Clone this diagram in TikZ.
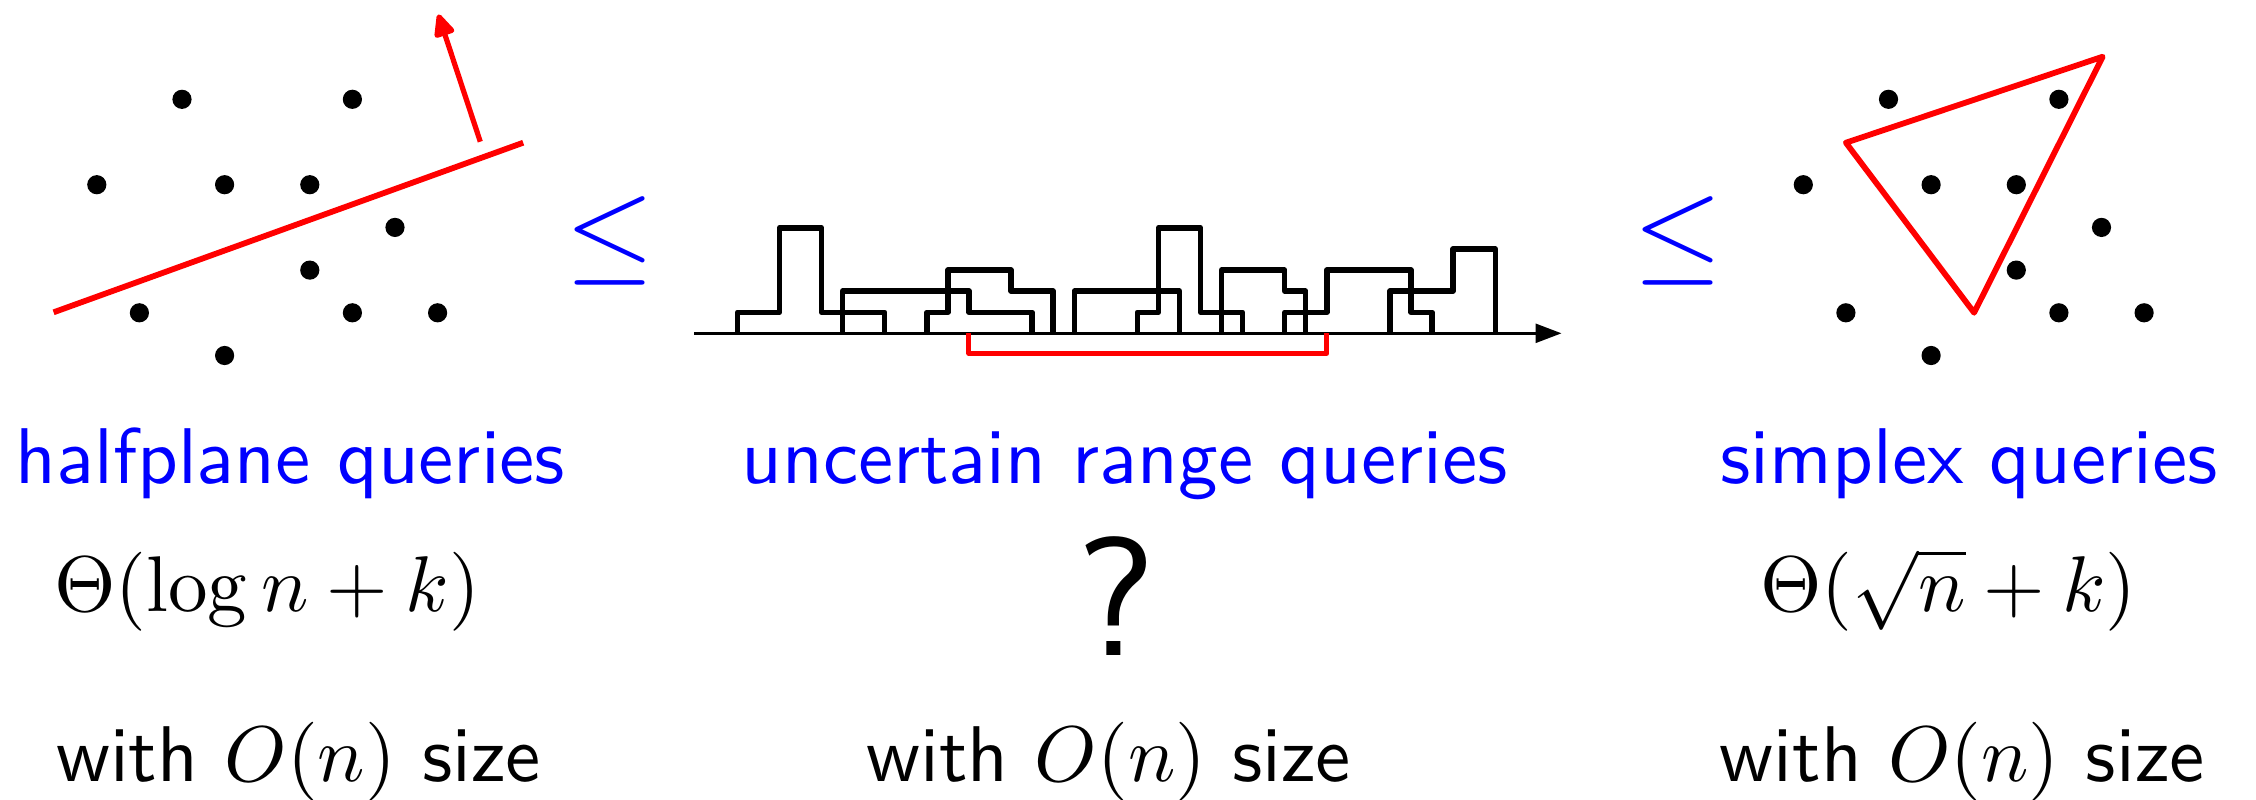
\documentclass[tikz,border=0pt]{standalone}
\usetikzlibrary{arrows.meta}
\begin{document}
\begin{tikzpicture}[x=0.5pt,y=-0.5pt,
  dot/.style={circle,fill=black,inner sep=0pt,minimum size=9.6pt},
  lbl/.style={font=\sffamily\fontsize{10}{12}\selectfont,inner sep=0pt,anchor=base,scale=3.95},
  bluelbl/.style={lbl,text=blue},
  leqsym/.style={font=\fontsize{10}{12}\selectfont,inner sep=0pt,anchor=center,text=blue,scale=5.73},
  stair/.style={line width=2.7pt,line join=round,black},
  redline/.style={red,line width=2.9pt},
  redbracket/.style={red,line width=2.5pt,line join=round}
]
\useasboundingbox (0,0) rectangle (2256,799);

% ---------- left panel: halfplane ----------
\begin{scope}[shift={(96.8,99.3)}]
  \foreach \i/\j [count=\n] in {2/0,6/0,0/2,3/2,5/2,7/3,5/4,1/5,6/5,8/5,3/6}
    \node[dot] (L\n) at ({42.6*\i},{42.7*\j}) {};
\end{scope}
\coordinate (hpA) at (53.6,312.3);
\coordinate (hpB) at (523.2,142.7);
\draw[redline] (hpA) -- (hpB);
\coordinate (arS) at (480.3,141.7);
\coordinate (arT) at (438.3,14.5);
\draw[red,line width=2.6pt,-{Triangle[length=13pt,width=11pt,round]}] (arS) -- (arT);

% ---------- leq symbols ----------
\node[leqsym] (leq1) at (610.5,241.3) {$\leq$};
\node[leqsym] (leq2) at (1677.8,241.3) {$\leq$};

% ---------- middle panel: staircase ----------
\coordinate (axA) at (694.3,333.3);
\coordinate (axB) at (1561.5,333.3);
\draw[line width=1.3pt,-{Triangle[length=13pt,width=9.5pt]}] (axA) -- (axB);
\begin{scope}[shift={(695.3,333.3)},x=10.525pt,y=10.55pt]
  \draw[stair] (2,0) -- (2,1) -- (4,1) -- (4,5) -- (6,5) -- (6,1) -- (9,1) -- (9,0);
  \draw[stair] (7,0) -- (7,2) -- (13,2) -- (13,1) -- (16,1) -- (16,0);
  \draw[stair] (11,0) -- (11,1) -- (12,1) -- (12,3) -- (15,3) -- (15,2) -- (17,2) -- (17,0);
  \draw[stair] (18,0) -- (18,2) -- (23,2) -- (23,0);
  \draw[stair] (21,0) -- (21,1) -- (22,1) -- (22,5) -- (24,5) -- (24,1) -- (26,1) -- (26,0);
  \draw[stair] (25,0) -- (25,3) -- (28,3) -- (28,2) -- (29,2) -- (29,0);
  \draw[stair] (28,0) -- (28,1) -- (30,1) -- (30,3) -- (34,3) -- (34,1) -- (35,1) -- (35,0);
  \draw[stair] (33,0) -- (33,2) -- (36,2) -- (36,4) -- (38,4) -- (38,0);
  \coordinate (rq1) at (13,0);
  \coordinate (rq2) at (30,0);
  \draw[redbracket] (rq1) -- (13,-0.95) -- (30,-0.95) -- (rq2);
\end{scope}

% ---------- right panel: simplex ----------
\begin{scope}[shift={(1803.3,99.3)}]
  \foreach \i/\j [count=\n] in {2/0,6/0,0/2,3/2,5/2,7/3,5/4,1/5,6/5,8/5,3/6}
    \node[dot] (R\n) at ({42.6*\i},{42.7*\j}) {};
\end{scope}
\coordinate (trA) at (1845.9,142.7);
\coordinate (trB) at (2102.7,56.7);
\coordinate (trC) at (1974.1,312.7);
\draw[redline,line join=round] (trA) -- (trB) -- (trC) -- cycle;

% ---------- labels ----------
\node[bluelbl] (t1) at (290.3,483.3) {halfplane queries};
\node[bluelbl] (t2) at (1124.4,483.3) {uncertain range queries};
\node[bluelbl] (t3) at (1969.2,483.3) {simplex queries};

\node[lbl] (c1) at (267,611.7) {$\Theta(\log n+k)$};
\node[lbl,scale=8.43/3.95] (c2) at (1116,655) {?};
\node[lbl] (c3) at (1948.3,611.7) {$\Theta(\sqrt{n}+k)$};

\node[lbl] (s1) at (298.5,781.7) {with $O(n)$ size};
\node[lbl] (s2) at (1108.7,781.7) {with $O(n)$ size};
\node[lbl] (s3) at (1962.2,781.7) {with $O(n)$ size};
\end{tikzpicture}
\end{document}
